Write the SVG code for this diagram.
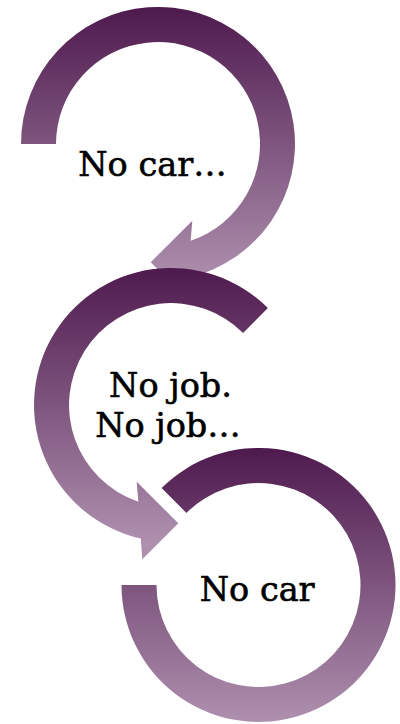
<svg xmlns="http://www.w3.org/2000/svg" width="400" height="724" viewBox="0 0 400 724">
  <defs>
    <linearGradient id="g1" gradientUnits="userSpaceOnUse" x1="0" y1="7" x2="0" y2="281">
      <stop offset="0" stop-color="#4e1a4e"/>
      <stop offset="1" stop-color="#ae90ae"/>
    </linearGradient>
    <linearGradient id="g2" gradientUnits="userSpaceOnUse" x1="0" y1="268" x2="0" y2="542">
      <stop offset="0" stop-color="#4e1a4e"/>
      <stop offset="1" stop-color="#ae90ae"/>
    </linearGradient>
    <linearGradient id="g3" gradientUnits="userSpaceOnUse" x1="0" y1="448" x2="0" y2="722">
      <stop offset="0" stop-color="#4e1a4e"/>
      <stop offset="1" stop-color="#ae90ae"/>
    </linearGradient>
  </defs>
  <style>
    .lbl { font-family: "DejaVu Serif", "Liberation Serif", serif; font-size: 33.5px; fill: #000000; stroke: #000000; stroke-width: 0.6px; text-anchor: middle; }
  </style>
  <rect width="400" height="724" fill="#ffffff"/>
  <g id="node1">
    <path fill="url(#g1)" d="M21,144 A137,137 0 1 1 188.1,277.6 L186.7,298.3 L150.7,262.3 L192.3,220.7 L190.7,240.7 A102,102 0 1 0 56,144 Z"/>
    <text class="lbl" x="152.5" y="175.5">No car…</text>
  </g>
  <g id="node2">
    <path fill="url(#g2)" d="M267.9,308.1 A137,137 0 1 0 140.8,538.6 L142.3,559.3 L178.3,523.3 L136.7,481.7 L138.3,501.7 A102,102 0 1 1 243.1,332.9 Z"/>
    <text class="lbl" x="170.5" y="396.7">No job.</text>
    <text class="lbl" x="168" y="436.7">No job…</text>
  </g>
  <g id="node3">
    <path fill="url(#g3)" d="M161.6,488.1 A137,137 0 1 1 121.5,585 L156.5,585 A102,102 0 1 0 186.4,512.9 Z"/>
    <text class="lbl" x="257.2" y="600.7">No car</text>
  </g>
  <g id="connectors"/>
</svg>
